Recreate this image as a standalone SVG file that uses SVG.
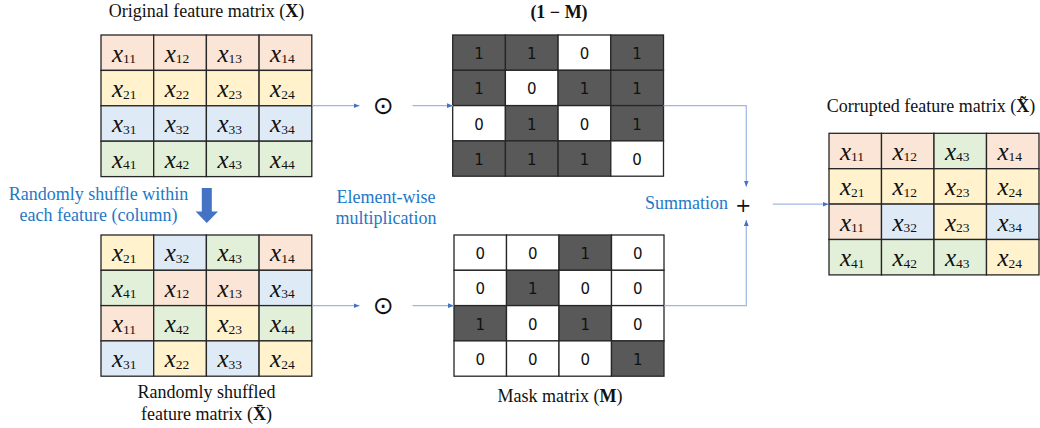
<svg xmlns="http://www.w3.org/2000/svg" width="1040" height="428" viewBox="0 0 1040 428">
  <style>
    .cell { stroke: #262626; stroke-width: 1.3; }
    .P { fill: #FBE5D6; } .Y { fill: #FFF2CC; } .B { fill: #DEEBF7; } .G { fill: #E2F0D9; }
    .D { fill: #595959; } .W { fill: #FFFFFF; }
    .x { font-family: "Liberation Serif", "DejaVu Serif", serif; font-size: 25px; font-style: italic; fill: #111; }
    .sub { font-size: 13.5px; font-style: normal; }
    .n { font-family: "DejaVu Sans", "Liberation Sans", sans-serif; font-size: 15px; fill: #111; text-anchor: middle; }
    .title { font-family: "Liberation Serif", "DejaVu Serif", serif; font-size: 18px; fill: #111; text-anchor: middle; }
    .bold { font-weight: bold; }
    .note { font-family: "Liberation Serif", "DejaVu Serif", serif; font-size: 18px; fill: #1E78C8; text-anchor: middle; }
    .op { font-family: "DejaVu Sans", sans-serif; fill: #111; text-anchor: middle; }
    .link { fill: none; stroke: #9DB7E3; stroke-width: 1.2; }
  </style>
  <defs>
    <marker id="tip" viewBox="0 0 6 6" refX="6" refY="3" markerWidth="6" markerHeight="6" markerUnits="userSpaceOnUse" orient="auto">
      <path d="M0,0.6 L6,3 L0,5.4 Z" fill="#4472C4"/>
    </marker>
  </defs>

  <!-- Original feature matrix X -->
  <g id="matrix-x">
    <text class="title" x="206.5" y="17">Original feature matrix (<tspan class="bold">X</tspan>)</text>
    <rect class="cell P" x="101" y="35" width="52.7" height="35.4"/>
    <rect class="cell P" x="153.7" y="35" width="52.7" height="35.4"/>
    <rect class="cell P" x="206.4" y="35" width="52.7" height="35.4"/>
    <rect class="cell P" x="259.1" y="35" width="52.7" height="35.4"/>
    <rect class="cell Y" x="101" y="70.4" width="52.7" height="35.4"/>
    <rect class="cell Y" x="153.7" y="70.4" width="52.7" height="35.4"/>
    <rect class="cell Y" x="206.4" y="70.4" width="52.7" height="35.4"/>
    <rect class="cell Y" x="259.1" y="70.4" width="52.7" height="35.4"/>
    <rect class="cell B" x="101" y="105.8" width="52.7" height="35.4"/>
    <rect class="cell B" x="153.7" y="105.8" width="52.7" height="35.4"/>
    <rect class="cell B" x="206.4" y="105.8" width="52.7" height="35.4"/>
    <rect class="cell B" x="259.1" y="105.8" width="52.7" height="35.4"/>
    <rect class="cell G" x="101" y="141.2" width="52.7" height="35.4"/>
    <rect class="cell G" x="153.7" y="141.2" width="52.7" height="35.4"/>
    <rect class="cell G" x="206.4" y="141.2" width="52.7" height="35.4"/>
    <rect class="cell G" x="259.1" y="141.2" width="52.7" height="35.4"/>
    <text class="x" x="112" y="61.5">x<tspan class="sub" dy="1.6">11</tspan></text>
    <text class="x" x="164.7" y="61.5">x<tspan class="sub" dy="1.6">12</tspan></text>
    <text class="x" x="217.4" y="61.5">x<tspan class="sub" dy="1.6">13</tspan></text>
    <text class="x" x="270.1" y="61.5">x<tspan class="sub" dy="1.6">14</tspan></text>
    <text class="x" x="112" y="96.9">x<tspan class="sub" dy="1.6">21</tspan></text>
    <text class="x" x="164.7" y="96.9">x<tspan class="sub" dy="1.6">22</tspan></text>
    <text class="x" x="217.4" y="96.9">x<tspan class="sub" dy="1.6">23</tspan></text>
    <text class="x" x="270.1" y="96.9">x<tspan class="sub" dy="1.6">24</tspan></text>
    <text class="x" x="112" y="132.3">x<tspan class="sub" dy="1.6">31</tspan></text>
    <text class="x" x="164.7" y="132.3">x<tspan class="sub" dy="1.6">32</tspan></text>
    <text class="x" x="217.4" y="132.3">x<tspan class="sub" dy="1.6">33</tspan></text>
    <text class="x" x="270.1" y="132.3">x<tspan class="sub" dy="1.6">34</tspan></text>
    <text class="x" x="112" y="167.7">x<tspan class="sub" dy="1.6">41</tspan></text>
    <text class="x" x="164.7" y="167.7">x<tspan class="sub" dy="1.6">42</tspan></text>
    <text class="x" x="217.4" y="167.7">x<tspan class="sub" dy="1.6">43</tspan></text>
    <text class="x" x="270.1" y="167.7">x<tspan class="sub" dy="1.6">44</tspan></text>
  </g>

  <!-- Shuffle step -->
  <g id="shuffle-step">
    <text class="note" x="98.5" y="200">Randomly shuffle within</text>
    <text class="note" x="98.5" y="220.5">each feature (column)</text>
    <path d="M201.8,188 H211.8 V211.5 H218 L206.8,223 L195.6,211.5 H201.8 Z" fill="#4472C4"/>
  </g>

  <!-- Randomly shuffled feature matrix X-bar -->
  <g id="matrix-x-bar">
    <rect class="cell Y" x="101" y="235" width="52.7" height="35.3"/>
    <rect class="cell B" x="153.7" y="235" width="52.7" height="35.3"/>
    <rect class="cell G" x="206.4" y="235" width="52.7" height="35.3"/>
    <rect class="cell P" x="259.1" y="235" width="52.7" height="35.3"/>
    <rect class="cell G" x="101" y="270.3" width="52.7" height="35.3"/>
    <rect class="cell P" x="153.7" y="270.3" width="52.7" height="35.3"/>
    <rect class="cell P" x="206.4" y="270.3" width="52.7" height="35.3"/>
    <rect class="cell B" x="259.1" y="270.3" width="52.7" height="35.3"/>
    <rect class="cell P" x="101" y="305.6" width="52.7" height="35.3"/>
    <rect class="cell G" x="153.7" y="305.6" width="52.7" height="35.3"/>
    <rect class="cell Y" x="206.4" y="305.6" width="52.7" height="35.3"/>
    <rect class="cell G" x="259.1" y="305.6" width="52.7" height="35.3"/>
    <rect class="cell B" x="101" y="340.9" width="52.7" height="35.3"/>
    <rect class="cell Y" x="153.7" y="340.9" width="52.7" height="35.3"/>
    <rect class="cell B" x="206.4" y="340.9" width="52.7" height="35.3"/>
    <rect class="cell Y" x="259.1" y="340.9" width="52.7" height="35.3"/>
    <text class="x" x="112" y="261.4">x<tspan class="sub" dy="1.6">21</tspan></text>
    <text class="x" x="164.7" y="261.4">x<tspan class="sub" dy="1.6">32</tspan></text>
    <text class="x" x="217.4" y="261.4">x<tspan class="sub" dy="1.6">43</tspan></text>
    <text class="x" x="270.1" y="261.4">x<tspan class="sub" dy="1.6">14</tspan></text>
    <text class="x" x="112" y="296.7">x<tspan class="sub" dy="1.6">41</tspan></text>
    <text class="x" x="164.7" y="296.7">x<tspan class="sub" dy="1.6">12</tspan></text>
    <text class="x" x="217.4" y="296.7">x<tspan class="sub" dy="1.6">13</tspan></text>
    <text class="x" x="270.1" y="296.7">x<tspan class="sub" dy="1.6">34</tspan></text>
    <text class="x" x="112" y="332">x<tspan class="sub" dy="1.6">11</tspan></text>
    <text class="x" x="164.7" y="332">x<tspan class="sub" dy="1.6">42</tspan></text>
    <text class="x" x="217.4" y="332">x<tspan class="sub" dy="1.6">23</tspan></text>
    <text class="x" x="270.1" y="332">x<tspan class="sub" dy="1.6">44</tspan></text>
    <text class="x" x="112" y="367.3">x<tspan class="sub" dy="1.6">31</tspan></text>
    <text class="x" x="164.7" y="367.3">x<tspan class="sub" dy="1.6">22</tspan></text>
    <text class="x" x="217.4" y="367.3">x<tspan class="sub" dy="1.6">33</tspan></text>
    <text class="x" x="270.1" y="367.3">x<tspan class="sub" dy="1.6">24</tspan></text>
    <text class="title" x="206.5" y="398">Randomly shuffled</text>
    <text class="title" x="206.5" y="420">feature matrix (<tspan class="bold">X&#x304;</tspan>)</text>
  </g>

  <!-- Element-wise multiplication operators -->
  <g id="mult-top">
    <text class="op" x="383.3" y="113.8" font-size="25">⊙</text>
  </g>
  <g id="mult-bottom">
    <text class="op" x="383.3" y="313.8" font-size="25">⊙</text>
  </g>
  <g id="mult-label">
    <text class="note" x="386" y="203.3">Element-wise</text>
    <text class="note" x="386" y="224.3">multiplication</text>
  </g>

  <!-- Complement mask (1 - M) -->
  <g id="matrix-one-minus-m">
    <text class="title bold" x="559" y="18">(1 − M)</text>
    <rect class="cell D" x="452.7" y="35" width="52.7" height="35.3"/>
    <rect class="cell D" x="505.4" y="35" width="52.7" height="35.3"/>
    <rect class="cell W" x="558.1" y="35" width="52.7" height="35.3"/>
    <rect class="cell D" x="610.8" y="35" width="52.7" height="35.3"/>
    <rect class="cell D" x="452.7" y="70.3" width="52.7" height="35.3"/>
    <rect class="cell W" x="505.4" y="70.3" width="52.7" height="35.3"/>
    <rect class="cell D" x="558.1" y="70.3" width="52.7" height="35.3"/>
    <rect class="cell D" x="610.8" y="70.3" width="52.7" height="35.3"/>
    <rect class="cell W" x="452.7" y="105.6" width="52.7" height="35.3"/>
    <rect class="cell D" x="505.4" y="105.6" width="52.7" height="35.3"/>
    <rect class="cell W" x="558.1" y="105.6" width="52.7" height="35.3"/>
    <rect class="cell D" x="610.8" y="105.6" width="52.7" height="35.3"/>
    <rect class="cell D" x="452.7" y="140.9" width="52.7" height="35.3"/>
    <rect class="cell D" x="505.4" y="140.9" width="52.7" height="35.3"/>
    <rect class="cell D" x="558.1" y="140.9" width="52.7" height="35.3"/>
    <rect class="cell W" x="610.8" y="140.9" width="52.7" height="35.3"/>
    <text class="n" x="479" y="59">1</text>
    <text class="n" x="531.7" y="59">1</text>
    <text class="n" x="584.4" y="59">0</text>
    <text class="n" x="637.1" y="59">1</text>
    <text class="n" x="479" y="94.3">1</text>
    <text class="n" x="531.7" y="94.3">0</text>
    <text class="n" x="584.4" y="94.3">1</text>
    <text class="n" x="637.1" y="94.3">1</text>
    <text class="n" x="479" y="129.6">0</text>
    <text class="n" x="531.7" y="129.6">1</text>
    <text class="n" x="584.4" y="129.6">0</text>
    <text class="n" x="637.1" y="129.6">1</text>
    <text class="n" x="479" y="164.9">1</text>
    <text class="n" x="531.7" y="164.9">1</text>
    <text class="n" x="584.4" y="164.9">1</text>
    <text class="n" x="637.1" y="164.9">0</text>
  </g>

  <!-- Mask matrix M -->
  <g id="matrix-m">
    <rect class="cell W" x="454" y="235" width="52.5" height="35.3"/>
    <rect class="cell W" x="506.5" y="235" width="52.5" height="35.3"/>
    <rect class="cell D" x="559" y="235" width="52.5" height="35.3"/>
    <rect class="cell W" x="611.5" y="235" width="52.5" height="35.3"/>
    <rect class="cell W" x="454" y="270.3" width="52.5" height="35.3"/>
    <rect class="cell D" x="506.5" y="270.3" width="52.5" height="35.3"/>
    <rect class="cell W" x="559" y="270.3" width="52.5" height="35.3"/>
    <rect class="cell W" x="611.5" y="270.3" width="52.5" height="35.3"/>
    <rect class="cell D" x="454" y="305.6" width="52.5" height="35.3"/>
    <rect class="cell W" x="506.5" y="305.6" width="52.5" height="35.3"/>
    <rect class="cell D" x="559" y="305.6" width="52.5" height="35.3"/>
    <rect class="cell W" x="611.5" y="305.6" width="52.5" height="35.3"/>
    <rect class="cell W" x="454" y="340.9" width="52.5" height="35.3"/>
    <rect class="cell W" x="506.5" y="340.9" width="52.5" height="35.3"/>
    <rect class="cell W" x="559" y="340.9" width="52.5" height="35.3"/>
    <rect class="cell D" x="611.5" y="340.9" width="52.5" height="35.3"/>
    <text class="n" x="480.2" y="259">0</text>
    <text class="n" x="532.7" y="259">0</text>
    <text class="n" x="585.2" y="259">1</text>
    <text class="n" x="637.7" y="259">0</text>
    <text class="n" x="480.2" y="294.3">0</text>
    <text class="n" x="532.7" y="294.3">1</text>
    <text class="n" x="585.2" y="294.3">0</text>
    <text class="n" x="637.7" y="294.3">0</text>
    <text class="n" x="480.2" y="329.6">1</text>
    <text class="n" x="532.7" y="329.6">0</text>
    <text class="n" x="585.2" y="329.6">1</text>
    <text class="n" x="637.7" y="329.6">0</text>
    <text class="n" x="480.2" y="364.9">0</text>
    <text class="n" x="532.7" y="364.9">0</text>
    <text class="n" x="585.2" y="364.9">0</text>
    <text class="n" x="637.7" y="364.9">1</text>
    <text class="title" x="560" y="401.5">Mask matrix (<tspan class="bold">M</tspan>)</text>
  </g>

  <!-- Summation operator -->
  <g id="sum">
    <text class="note" x="686.5" y="209">Summation</text>
    <text class="op" x="743.3" y="212" font-size="19">+</text>
  </g>

  <!-- Corrupted feature matrix X-tilde -->
  <g id="matrix-x-tilde">
    <text class="title" x="931" y="112">Corrupted feature matrix (<tspan class="bold">X&#x303;</tspan>)</text>
    <rect class="cell P" x="829" y="133.3" width="52.5" height="35.4"/>
    <rect class="cell P" x="881.5" y="133.3" width="52.5" height="35.4"/>
    <rect class="cell G" x="934" y="133.3" width="52.5" height="35.4"/>
    <rect class="cell P" x="986.5" y="133.3" width="52.5" height="35.4"/>
    <rect class="cell Y" x="829" y="168.7" width="52.5" height="35.4"/>
    <rect class="cell Y" x="881.5" y="168.7" width="52.5" height="35.4"/>
    <rect class="cell Y" x="934" y="168.7" width="52.5" height="35.4"/>
    <rect class="cell Y" x="986.5" y="168.7" width="52.5" height="35.4"/>
    <rect class="cell P" x="829" y="204.1" width="52.5" height="35.4"/>
    <rect class="cell B" x="881.5" y="204.1" width="52.5" height="35.4"/>
    <rect class="cell Y" x="934" y="204.1" width="52.5" height="35.4"/>
    <rect class="cell B" x="986.5" y="204.1" width="52.5" height="35.4"/>
    <rect class="cell G" x="829" y="239.5" width="52.5" height="35.4"/>
    <rect class="cell G" x="881.5" y="239.5" width="52.5" height="35.4"/>
    <rect class="cell G" x="934" y="239.5" width="52.5" height="35.4"/>
    <rect class="cell Y" x="986.5" y="239.5" width="52.5" height="35.4"/>
    <text class="x" x="840" y="159.8">x<tspan class="sub" dy="1.6">11</tspan></text>
    <text class="x" x="892.5" y="159.8">x<tspan class="sub" dy="1.6">12</tspan></text>
    <text class="x" x="945" y="159.8">x<tspan class="sub" dy="1.6">43</tspan></text>
    <text class="x" x="997.5" y="159.8">x<tspan class="sub" dy="1.6">14</tspan></text>
    <text class="x" x="840" y="195.2">x<tspan class="sub" dy="1.6">21</tspan></text>
    <text class="x" x="892.5" y="195.2">x<tspan class="sub" dy="1.6">12</tspan></text>
    <text class="x" x="945" y="195.2">x<tspan class="sub" dy="1.6">23</tspan></text>
    <text class="x" x="997.5" y="195.2">x<tspan class="sub" dy="1.6">24</tspan></text>
    <text class="x" x="840" y="230.6">x<tspan class="sub" dy="1.6">11</tspan></text>
    <text class="x" x="892.5" y="230.6">x<tspan class="sub" dy="1.6">32</tspan></text>
    <text class="x" x="945" y="230.6">x<tspan class="sub" dy="1.6">23</tspan></text>
    <text class="x" x="997.5" y="230.6">x<tspan class="sub" dy="1.6">34</tspan></text>
    <text class="x" x="840" y="266">x<tspan class="sub" dy="1.6">41</tspan></text>
    <text class="x" x="892.5" y="266">x<tspan class="sub" dy="1.6">42</tspan></text>
    <text class="x" x="945" y="266">x<tspan class="sub" dy="1.6">43</tspan></text>
    <text class="x" x="997.5" y="266">x<tspan class="sub" dy="1.6">24</tspan></text>
  </g>

  <!-- Connectors -->
  <g id="connectors">
    <path class="link" d="M312,105.7 H359.5" marker-end="url(#tip)"/>
    <path class="link" d="M412.5,105.7 H453" marker-end="url(#tip)"/>
    <path class="link" d="M312,305.7 H359.5" marker-end="url(#tip)"/>
    <path class="link" d="M412.5,305.7 H454" marker-end="url(#tip)"/>
    <path class="link" d="M663.5,105.7 H746.3 V186.7" marker-end="url(#tip)"/>
    <path class="link" d="M664,305.7 H746.3 V220" marker-end="url(#tip)"/>
    <path class="link" d="M772.7,204.2 H828.5" marker-end="url(#tip)"/>
  </g>
</svg>
